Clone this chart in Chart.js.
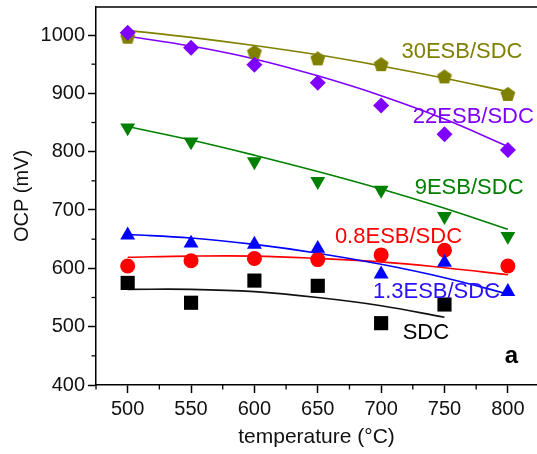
<!DOCTYPE html>
<html><head><meta charset="utf-8">
<script src="https://cdn.jsdelivr.net/npm/chart.js@4"></script>
<style>html,body{margin:0;padding:0;background:#fff}#wrap{width:537px;height:454px;position:relative}</style>
</head><body><div id="wrap"><canvas id="c"></canvas></div>
<script>
// ---- data ----
const temps = [500, 550, 600, 650, 700, 750, 800];
const ocp30 = [997, null, 971, 960, 950, 929, 899];
const fit30 = [1008, 996, 982, 966, 947, 926, 903];
const ocp22 = [1004, 978, 949, 918, 879, 830, 803];
const fit22 = [998, 981, 959, 930, 896, 856, 809];
const ocp9  = [841, 817, 783, 749, 734, 689, 655];
const fit9  = [843, 820, 794, 766, 736, 703, 667];
const ocp13 = [657, 643, 641, 634, 590, 610, 560];
const fit13 = [658, 652, 641, 626, 607, 584, 556];
const ocp08 = [604, 613, 617, 615, 623, 631, 604];
const fit08 = [619, 621, 621, 617, 611, 601, 589];
const sdcTemps = [500, 550, 600, 650, 700, 750];
const ocpSdc = [575, 541, 579, 570, 506, 538];
const fitSdc = [564, 564, 560, 550, 536, 516];
const seriesNames = ['30ESB/SDC', '22ESB/SDC', '9ESB/SDC', '0.8ESB/SDC', '1.3ESB/SDC', 'SDC'];
const xTicks = [500, 550, 600, 650, 700, 750, 800];
const xMinor = [475, 525, 575, 625, 675, 725, 775];
const yTicks = [400, 500, 600, 700, 800, 900, 1000];
const yMinor = [450, 550, 650, 750, 850, 950];

// ---- styles ----
const FONT = "'Liberation Sans', Arial, Helvetica, sans-serif";
const C30 = '#808000', C22 = '#8000ff', C9 = '#008000', C08 = '#ff0000', C13 = '#0000ff', CS = '#000000';

function pts(xs, ys) { return xs.map((x, i) => ({x: x, y: ys[i]})).filter(p => p.y !== null); }
function pentagon(r, fill) {
  const s = Math.ceil(r * 2 + 2);
  const c = document.createElement('canvas'); c.width = s; c.height = s;
  const g = c.getContext('2d'); g.beginPath();
  for (let i = 0; i < 5; i++) {
    const a = -Math.PI / 2 + i * 2 * Math.PI / 5;
    const x = s / 2 + r * Math.cos(a), y = s / 2 + r * Math.sin(a) + r * 0.1;
    i ? g.lineTo(x, y) : g.moveTo(x, y);
  }
  g.closePath(); g.fillStyle = fill; g.fill();
  return c;
}

function marker(label, data, color, style, radius, rot, order) {
  return {label, data, showLine: false, pointStyle: style, pointRadius: radius, pointHoverRadius: radius,
    pointRotation: rot || 0, backgroundColor: color, borderColor: color, pointBorderWidth: 0, order};
}
function fit(label, data, color, order) {
  return {label, data, showLine: true, pointRadius: 0, borderColor: color, borderWidth: 1.6,
    tension: 0.4, fill: false, order};
}

const labelPlugin = {
  id: 'labels',
  afterDraw(chart, args, opts) {
    const ctx = chart.ctx, xs = chart.scales.x, ys = chart.scales.y, ca = chart.chartArea;
    ctx.save();
    ctx.strokeStyle = '#000'; ctx.lineWidth = 1.5;
    ctx.beginPath(); ctx.moveTo(ca.left, ca.top); ctx.lineTo(ca.right, ca.top); ctx.stroke();
    ctx.lineWidth = 1.3;
    xMinor.forEach(v => { const p = xs.getPixelForValue(v); ctx.beginPath(); ctx.moveTo(p, ca.bottom); ctx.lineTo(p, ca.bottom + 4.5); ctx.stroke(); });
    yMinor.forEach(v => { const p = ys.getPixelForValue(v); ctx.beginPath(); ctx.moveTo(ca.left, p); ctx.lineTo(ca.left - 4.5, p); ctx.stroke(); });
    ctx.textBaseline = 'middle'; ctx.textAlign = 'left';
    opts.items.forEach(it => {
      ctx.font = (it.bold ? 'bold ' : '') + it.size + 'px ' + FONT;
      ctx.fillStyle = it.color;
      ctx.fillText(it.text, xs.getPixelForValue(it.x), ys.getPixelForValue(it.y));
    });
    ctx.restore();
  }
};

new Chart(document.getElementById('c'), {
  type: 'scatter',
  data: {
    datasets: [
      marker(seriesNames[1], pts(temps, ocp22), C22, 'rectRot', 8, 0, 1),
      marker(seriesNames[0], pts(temps, ocp30), C30, pentagon(7.8, C30), 8, 0, 2),
      marker(seriesNames[2], pts(temps, ocp9), C9, 'triangle', 8.6, 180, 3),
      marker(seriesNames[4], pts(temps, ocp13), C13, 'triangle', 8.6, 0, 4),
      marker(seriesNames[3], pts(temps, ocp08), C08, 'circle', 7.5, 0, 5),
      marker(seriesNames[5], pts(sdcTemps, ocpSdc), CS, 'rect', 10, 0, 6),
      fit(seriesNames[0] + ' fit', pts(temps, fit30), C30, 10),
      fit(seriesNames[1] + ' fit', pts(temps, fit22), C22, 11),
      fit(seriesNames[2] + ' fit', pts(temps, fit9), C9, 12),
      fit(seriesNames[4] + ' fit', pts(temps, fit13), C13, 13),
      fit(seriesNames[3] + ' fit', pts(temps, fit08), C08, 14),
      fit(seriesNames[5] + ' fit', pts(sdcTemps, fitSdc), '#111', 15)
    ]
  },
  options: {
    responsive: true, maintainAspectRatio: false, animation: false,
    layout: {autoPadding: false, padding: {top: 7, left: 0, right: 0, bottom: 0}},
    plugins: {
      legend: {display: false}, tooltip: {enabled: false},
      labels: {items: [
        {text: seriesNames[0], x: 716, y: 971, color: C30, size: 22},
        {text: seriesNames[1], x: 725, y: 860, color: C22, size: 22},
        {text: seriesNames[2], x: 726.5, y: 737, color: C9, size: 22},
        {text: seriesNames[3], x: 663.5, y: 654, color: C08, size: 22},
        {text: seriesNames[4], x: 693.5, y: 560, color: '#2a10ff', size: 22},
        {text: seriesNames[5], x: 717, y: 489, color: '#000', size: 22},
        {text: 'a', x: 797.5, y: 449, color: '#000', size: 24, bold: true}
      ]}
    },
    scales: {
      x: {
        type: 'linear', min: 475, max: 823,
        afterBuildTicks: s => { s.ticks = xTicks.map(v => ({value: v})); },
        afterFit: s => { s.height = 69; s.paddingLeft = 0; s.paddingRight = 0; },
        grid: {drawOnChartArea: false, drawTicks: true, tickLength: 8, tickColor: '#000', tickWidth: 1.5},
        border: {display: true, color: '#000', width: 1.5},
        ticks: {color: '#111', font: {family: FONT, size: 20}, padding: 4, maxRotation: 0, autoSkip: false,
          callback: v => String(v)},
        title: {display: true, text: 'temperature (°C)', color: '#111', font: {family: FONT, size: 21}, padding: {top: 0, bottom: 4}}
      },
      y: {
        type: 'linear', min: 400, max: 1048,
        afterBuildTicks: s => { s.ticks = yTicks.map(v => ({value: v})); },
        afterFit: s => { s.width = 96; s.paddingTop = 0; s.paddingBottom = 0; },
        grid: {drawOnChartArea: false, drawTicks: true, tickLength: 8, tickColor: '#000', tickWidth: 1.5},
        border: {display: true, color: '#000', width: 1.5},
        ticks: {color: '#111', font: {family: FONT, size: 20}, padding: 3, autoSkip: false,
          callback: v => String(v)},
        title: {display: true, text: 'OCP (mV)', color: '#111', font: {family: FONT, size: 20}, padding: {top: 10, bottom: 0}}
      }
    }
  },
  plugins: [labelPlugin]
});
</script></body></html>
